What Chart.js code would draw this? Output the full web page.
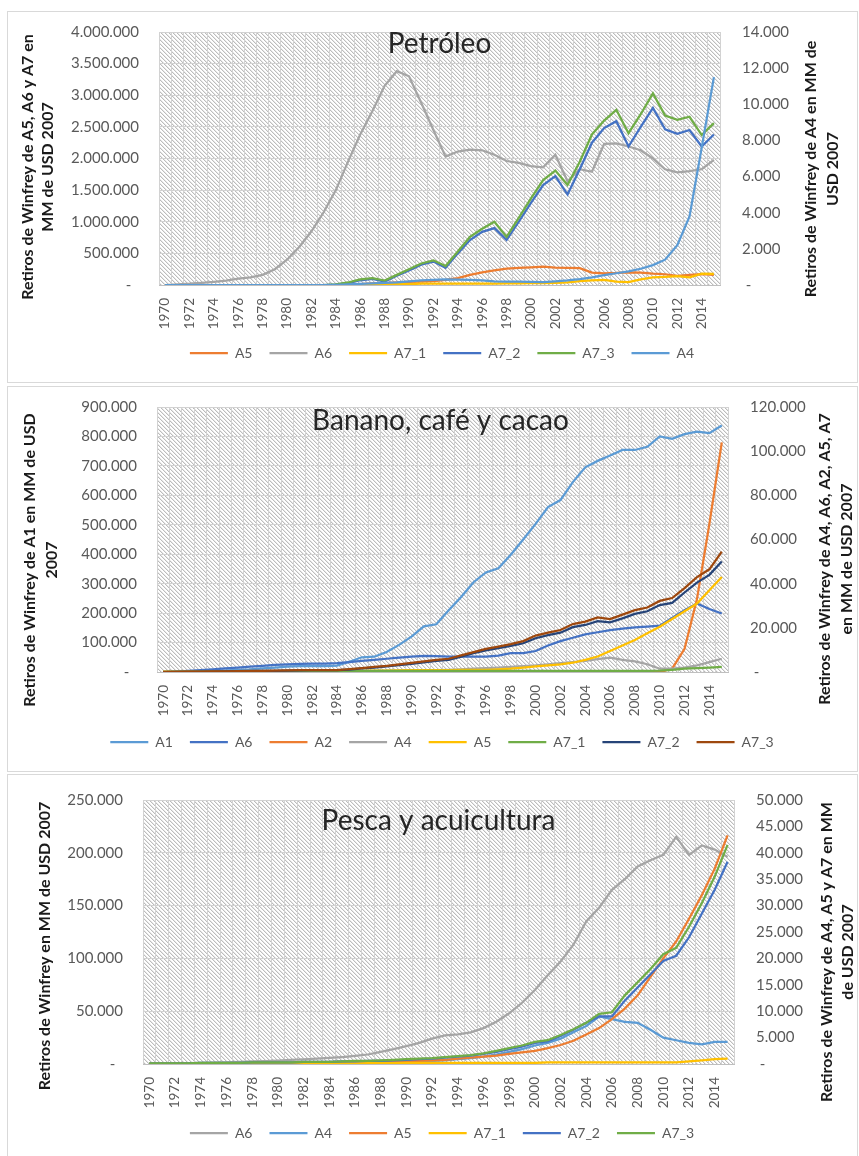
<!DOCTYPE html>
<html lang="es">
<head>
<meta charset="utf-8">
<title>Retiros de Winfrey por sector</title>
<script src="https://cdn.jsdelivr.net/npm/chart.js@4.4.1/dist/chart.umd.min.js"></script>
<style>
  html, body { margin: 0; padding: 0; background: #ffffff; }
  body { width: 859px; height: 1156px; position: relative; overflow: hidden; }
  .panel { position: absolute; left: 8px; width: 849px; outline: 1px solid #d9d9d9; background: #ffffff; }
  .panel canvas { display: block; }
</style>
</head>
<body>
<div class="panel" style="top:12px;height:370px"><canvas id="petroleo" width="849" height="370"></canvas></div>
<div class="panel" style="top:387px;height:384px"><canvas id="banano" width="849" height="384"></canvas></div>
<div class="panel" style="top:775px;height:381px"><canvas id="pesca" width="849" height="381"></canvas></div>
<script>
// ---- Categories -------------------------------------------------------
const years = [1970,1971,1972,1973,1974,1975,1976,1977,1978,1979,
               1980,1981,1982,1983,1984,1985,1986,1987,1988,1989,
               1990,1991,1992,1993,1994,1995,1996,1997,1998,1999,
               2000,2001,2002,2003,2004,2005,2006,2007,2008,2009,
               2010,2011,2012,2013,2014,2015];

// ---- Petróleo (MM USD 2007) -------------------------------------------
const petA5 = [0,0,0,0,0,0,0,0,0,0, 0,0,0,0,0, 5000,15000,25000,30000,40000,
               50000,55000,60000,80000,110000, 160000,200000,230000,260000,270000,
               280000,290000,275000,270000,265000, 195000,185000,190000,200000,195000,
               180000,170000,145000,160000,170000, 160000];
const petA6 = [0,10000,20000,35000,50000,70000,100000,120000,160000,250000,
               400000,600000,850000,1150000,1500000, 1950000,2380000,2750000,3150000,3380000,
               3300000,2880000,2450000,2030000,2110000, 2140000,2130000,2060000,1960000,1930000,
               1880000,1860000,2060000,1640000,1830000, 1790000,2230000,2240000,2190000,2130000,
               2000000,1830000,1780000,1800000,1830000, 1980000];
const petA7_1 = [0,0,0,0,0,0,0,0,0,0, 0,0,0,0,0, 0,5000,10000,10000,15000,
                 15000,20000,20000,20000,20000, 20000,20000,20000,25000,25000,
                 30000,30000,35000,40000,60000, 75000,80000,55000,45000,90000,
                 120000,130000,140000,120000,180000, 175000];
const petA7_2 = [0,0,0,0,0,0,0,0,0,0, 0,0,0,0,5000, 30000,75000,95000,55000,145000,
                 230000,320000,370000,270000,500000, 710000,840000,900000,710000,1000000,
                 1300000,1580000,1720000,1430000,1830000, 2250000,2480000,2590000,2190000,2500000,
                 2800000,2460000,2390000,2450000,2190000, 2380000];
const petA7_3 = [0,0,0,0,0,0,0,0,0,0, 0,0,0,0,10000, 40000,90000,110000,70000,160000,
                 250000,340000,390000,300000,530000, 760000,890000,1000000,760000,1060000,
                 1370000,1660000,1810000,1580000,1950000, 2380000,2600000,2770000,2400000,2700000,
                 3030000,2680000,2610000,2660000,2370000, 2560000];
const petA4 = [0,0,0,0,0,0,0,0,0,0, 0,0,0,0,10, 30,60,90,120,150,
               200,250,290,310,300, 280,250,200,180,180,
               170,160,200,250,320, 420,550,650,750,900,
               1100,1400,2200,3800,7600, 11500];

// ---- Banano, café y cacao ---------------------------------------------
const banA1 = [0,500,1000,2000,3000,5000,7000,9000,12000,15000,
               18000,20000,20000,20000,22000, 35000,50000,52000,68000,92000,
               120000,155000,162000,210000,255000, 305000,338000,352000,398000,450000,
               503000,560000,584000,645000,695000, 717000,735000,754000,754000,765000,
               800000,792000,808000,816000,811000, 837000];
const banA6 = [0,200,500,800,1200,1600,2000,2400,2800,3200,
               3500,3700,3800,3800,4000, 4500,5000,5500,6000,6500,
               7000,7300,7200,7000,7000, 7000,7000,7400,8500,8600,
               9500,12000,14000,15500,17000, 18000,19000,19600,20200,20600,
               21000,24500,28000,31000,28500, 26500];
const banA2 = [0,0,0,0,0,0,0,0,0,0, 0,0,0,0,0, 0,0,0,0,0,
               0,0,0,0,0, 0,0,0,0,0, 0,0,0,0,0, 0,0,0,0,0,
               0,1500,10500,33000,67000, 104000];
const banA4 = [0,0,0,100,100,100,200,200,200,300,
               300,300,300,300,300, 300,400,400,500,500,
               600,700,800,1000,1200, 1500,1800,2000,2300,2700,
               3000,3500,4000,4500,5000, 5800,6500,5500,4800,3500,
               1500,1500,2000,3000,4500, 6000];
const banA5 = [200,200,200,200,200,300,300,300,300,300,
               400,400,400,400,400, 500,500,600,600,700,
               800,800,900,900,1000, 1000,1000,1200,1500,2000,
               2500,3000,3500,4200,5500, 7000,9500,12000,14500,17500,
               20500,24000,27500,31000,37000, 43000];
const banA7_1 = [100,100,100,200,200,200,300,300,300,300,
                 400,400,400,400,400, 500,500,500,500,500,
                 500,500,500,500,500, 500,500,500,500,500,
                 500,500,500,500,500, 500,500,500,500,500,
                 600,1000,1500,1800,2000, 2300];
const banA7_2 = [0,100,100,200,200,300,400,400,500,500,
                 600,700,800,800,800, 1100,1600,2000,2500,3100,
                 3700,4400,5000,5500,7000, 8500,9800,10800,11800,13000,
                 15300,16700,17800,20300,21300, 23000,22500,24300,26300,27500,
                 30300,31300,36000,40500,44000, 50000];
const banA7_3 = [100,100,200,200,300,300,400,500,500,600,
                 700,800,900,900,900, 1300,1800,2300,2800,3500,
                 4100,4800,5500,6000,7500, 9000,10500,11500,12600,14000,
                 16500,17800,19000,21700,22800, 24700,24000,26000,28000,29200,
                 32200,33500,38000,43000,46500, 54500];

// ---- Pesca y acuicultura ----------------------------------------------
const pesA6 = [0,300,500,800,1000,1300,1600,2000,2400,2800,
               3300,3800,4400,5000,5700, 6600,7700,9000,11500,14000,
               17000,20000,24000,27000,28000, 30000,34000,40000,48000,58000,
               70000,84000,97000,113000,135000, 148000,165000,175000,187000,193000,
               198000,215000,198000,207000,203000, 196000];
const pesA4 = [0,0,0,0,0,50,50,50,100,100,
               100,100,100,150,150, 150,200,250,300,350,
               400,500,600,700,900, 1100,1400,1800,2300,2800,
               3500,4000,4800,6000,7200, 9000,8500,8000,7800,6500,
               5000,4500,4000,3700,4200, 4200];
const pesA5 = [0,0,0,0,0,0,50,50,50,100,
               100,100,100,150,150, 150,200,300,300,400,
               500,600,700,800,1000, 1200,1400,1600,1900,2200,
               2500,3000,3600,4400,5600, 6800,8500,10500,13000,16500,
               20000,23200,27500,32000,37000, 43300];
const pesA7_1 = [100,100,100,100,100,100,100,100,100,100,
                 100,100,100,100,100, 100,200,200,200,200,
                 200,200,200,200,200, 200,200,200,200,200,
                 200,300,300,300,300, 300,300,300,300,300,
                 300,300,500,700,900, 1000];
const pesA7_2 = [100,100,100,100,200,200,200,200,300,300,
                 300,300,400,400,400, 500,500,600,600,700,
                 800,900,1000,1200,1400, 1600,1900,2300,2800,3300,
                 4000,4300,5300,6500,7800, 9000,9000,12000,14500,17000,
                 19500,20500,24000,28500,33000, 38300];
const pesA7_3 = [100,100,100,100,200,200,200,200,300,300,
                 300,300,400,400,400, 500,600,600,700,800,
                 900,1000,1100,1300,1500, 1700,2000,2500,3000,3500,
                 4200,4500,5500,6600,7800, 9500,9800,13000,15500,18000,
                 20800,22000,26000,30500,35500, 41500];

// ---- Palette -----------------------------------------------------------
const C = {
  orange: '#ED7D31', gray: '#A5A5A5', gold: '#FFC000', blue: '#4472C4',
  green: '#70AD47', sky: '#5B9BD5', navy: '#264478', brown: '#9E480E'
};

Chart.defaults.font.family = 'Lato, "Open Sans", sans-serif';
Chart.defaults.color = '#595959';

// Thousands with dots; zero shown as a dash (accounting style)
function miles(v) { return String(Math.round(v)).replace(/\B(?=(\d{3})+(?!\d))/g, '.'); }
const fmtLeft = v => (v === 0 ? '-\u00a0\u00a0' : miles(v));
const fmtRight = v => (v === 0 ? '\u00a0-' : miles(v));

// Diagonal hatch tile for the plot area
const hatchTile = (() => {
  const n = 8;
  const c = document.createElement('canvas');
  c.width = n; c.height = n;
  const g = c.getContext('2d');
  const img = g.createImageData(n, n);
  for (let y = 0; y < n; y++) {
    for (let x = 0; x < n; x++) {
      const d = (((x - y) % 4) + 4) % 4;
      const v = d === 0 ? 188 : (d === 1 ? 232 : 255);
      const k = (y * n + x) * 4;
      img.data[k] = v; img.data[k + 1] = v; img.data[k + 2] = v; img.data[k + 3] = 255;
    }
  }
  g.putImageData(img, 0, 0);
  return c;
})();

const plotBackground = {
  id: 'plotBackground',
  beforeDraw(chart) {
    const { ctx, chartArea: a } = chart;
    ctx.save();
    ctx.fillStyle = ctx.createPattern(hatchTile, 'repeat');
    ctx.fillRect(a.left, a.top, a.right - a.left, a.bottom - a.top);
    ctx.restore();
  }
};

// Chart heading inside the plot and the rotated axis titles
function makeLabels(spec) {
  return {
    id: 'panelLabels',
    afterDraw(chart) {
      const { ctx, chartArea: a } = chart;
      ctx.save();
      ctx.font = '28px Lato, sans-serif';
      ctx.fillStyle = '#262626';
      ctx.textAlign = 'center';
      ctx.textBaseline = 'alphabetic';
      ctx.fillText(spec.title, (a.left + a.right) / 2 + spec.titleDx, a.top + spec.titleBaseline);

      ctx.font = 'bold 16px Lato, sans-serif';
      ctx.fillStyle = '#1a1a1a';
      ctx.textBaseline = 'middle';
      spec.axisTitles.forEach(t => {
        t.lines.forEach((line, k) => {
          ctx.save();
          ctx.translate(t.x[k], t.y);
          ctx.rotate(-Math.PI / 2);
          ctx.fillText(line, 0, 0);
          ctx.restore();
        });
      });
      ctx.restore();
    }
  };
}

// Value axes keep their own width and add no extra space above/below the plot
function fixValueAxis(width) {
  return s => {
    s.width = width;
    s.paddingTop = 0;
    s.paddingBottom = 0;
  };
}

function drawPanel(canvasId, spec) {
  const datasets = spec.series.map((s, i) => ({
    label: s.label,
    data: s.data,
    yAxisID: s.axis,
    borderColor: s.color,
    backgroundColor: s.color,
    borderWidth: 2.25,
    pointRadius: 0,
    pointHoverRadius: 0,
    tension: 0,
    fill: false,
    order: -i
  }));

  return new Chart(document.getElementById(canvasId), {
    type: 'line',
    data: { labels: years, datasets },
    plugins: [plotBackground, makeLabels(spec)],
    options: {
      responsive: false,
      animation: false,
      events: [],
      layout: { padding: spec.padding },
      plugins: {
        tooltip: { enabled: false },
        title: { display: false },
        legend: {
          display: true,
          position: 'bottom',
          labels: {
            usePointStyle: true,
            pointStyle: 'line',
            pointStyleWidth: 38,
            padding: 17,
            color: '#595959',
            font: { size: 14 },
            sort: (a, b) => a.datasetIndex - b.datasetIndex
          }
        }
      },
      scales: {
        x: {
          type: 'category',
          offset: true,
          grid: { offset: true, color: '#d2d2d2', lineWidth: 1, drawTicks: false },
          border: { display: true, color: '#bfbfbf' },
          ticks: {
            autoSkip: false,
            minRotation: 90,
            maxRotation: 90,
            padding: 13,
            color: '#595959',
            font: { size: 13.5 },
            callback(value, index) {
              const y = years[index];
              return y % 2 === 0 ? String(y) : '';
            }
          },
          afterFit(s) { s.height = spec.xAxisHeight; }
        },
        yL: {
          position: 'left',
          min: 0,
          max: spec.left.max,
          grid: { color: '#d2d2d2', lineWidth: 1, drawTicks: false },
          border: { display: false },
          ticks: { stepSize: spec.left.step, padding: 20, color: '#595959', font: { size: 15 }, callback: fmtLeft },
          afterFit: fixValueAxis(spec.leftWidth)
        },
        yR: {
          position: 'right',
          min: 0,
          max: spec.right.max,
          grid: { drawOnChartArea: false, drawTicks: false },
          border: { display: false },
          ticks: { stepSize: spec.right.step, padding: 22, color: '#595959', font: { size: 15 }, callback: fmtRight },
          afterFit: fixValueAxis(spec.rightWidth)
        }
      }
    }
  });
}

drawPanel('petroleo', {
  title: 'Petróleo', titleDx: 0, titleBaseline: 21,
  padding: { top: 20, left: 19, right: 0, bottom: 12 },
  xAxisHeight: 44, leftWidth: 132, rightWidth: 137,
  left: { max: 4000000, step: 500000 },
  right: { max: 14000, step: 2000 },
  series: [
    { label: 'A5', data: petA5, color: C.orange, axis: 'yL' },
    { label: 'A6', data: petA6, color: C.gray, axis: 'yL' },
    { label: 'A7_1', data: petA7_1, color: C.gold, axis: 'yL' },
    { label: 'A7_2', data: petA7_2, color: C.blue, axis: 'yL' },
    { label: 'A7_3', data: petA7_3, color: C.green, axis: 'yL' },
    { label: 'A4', data: petA4, color: C.sky, axis: 'yR' }
  ],
  axisTitles: [
    { lines: ['Retiros de Winfrey de A5, A6 y A7 en', 'MM de USD 2007'], x: [20, 40], y: 155 },
    { lines: ['Retiros de Winfrey de A4 en MM de', 'USD 2007'], x: [803, 825], y: 157 }
  ]
});

drawPanel('banano', {
  title: 'Banano, café y cacao', titleDx: -2, titleBaseline: 23,
  padding: { top: 20, left: 19, right: 0, bottom: 12 },
  xAxisHeight: 46, leftWidth: 130, rightWidth: 129,
  left: { max: 900000, step: 100000 },
  right: { max: 120000, step: 20000 },
  series: [
    { label: 'A1', data: banA1, color: C.sky, axis: 'yL' },
    { label: 'A6', data: banA6, color: C.blue, axis: 'yR' },
    { label: 'A2', data: banA2, color: C.orange, axis: 'yR' },
    { label: 'A4', data: banA4, color: C.gray, axis: 'yR' },
    { label: 'A5', data: banA5, color: C.gold, axis: 'yR' },
    { label: 'A7_1', data: banA7_1, color: C.green, axis: 'yR' },
    { label: 'A7_2', data: banA7_2, color: C.navy, axis: 'yR' },
    { label: 'A7_3', data: banA7_3, color: C.brown, axis: 'yR' }
  ],
  axisTitles: [
    { lines: ['Retiros de Winfrey de A1 en MM de USD', '2007'], x: [22, 44], y: 173 },
    { lines: ['Retiros de Winfrey de A4, A6, A2, A5, A7', 'en MM de USD 2007'], x: [817, 839], y: 172 }
  ]
});

drawPanel('pesca', {
  title: 'Pesca y acuicultura', titleDx: 0, titleBaseline: 30,
  padding: { top: 25, left: 19, right: 0, bottom: 6 },
  xAxisHeight: 45, leftWidth: 116, rightWidth: 123,
  left: { max: 250000, step: 50000 },
  right: { max: 50000, step: 5000 },
  series: [
    { label: 'A6', data: pesA6, color: C.gray, axis: 'yL' },
    { label: 'A4', data: pesA4, color: C.sky, axis: 'yR' },
    { label: 'A5', data: pesA5, color: C.orange, axis: 'yR' },
    { label: 'A7_1', data: pesA7_1, color: C.gold, axis: 'yR' },
    { label: 'A7_2', data: pesA7_2, color: C.blue, axis: 'yR' },
    { label: 'A7_3', data: pesA7_3, color: C.green, axis: 'yR' }
  ],
  axisTitles: [
    { lines: ['Retiros de Winfrey en MM de USD 2007'], x: [37], y: 171 },
    { lines: ['Retiros de Winfrey de A4, A5 y A7 en MM', 'de USD 2007'], x: [819, 840], y: 177 }
  ]
});
</script>
</body>
</html>
